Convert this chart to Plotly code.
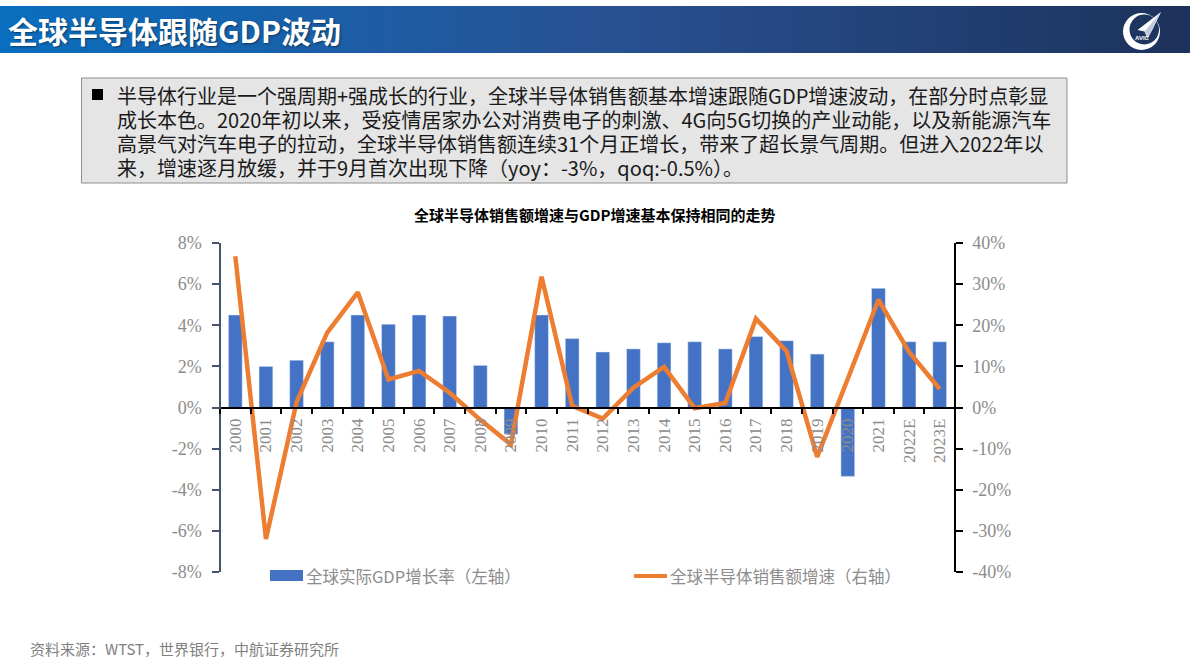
import plotly.graph_objects as go

W, H = 1190, 669

years = ['2000', '2001', '2002', '2003', '2004', '2005', '2006', '2007', '2008', '2009', '2010', '2011',
         '2012', '2013', '2014', '2015', '2016', '2017', '2018', '2019', '2020', '2021', '2022E', '2023E']
gdp_growth = [4.5, 2.0, 2.3, 3.2, 4.5, 4.05, 4.5, 4.45, 2.05, -1.3, 4.5, 3.35,
              2.7, 2.85, 3.15, 3.2, 2.85, 3.45, 3.25, 2.6, -3.35, 5.8, 3.2, 3.2]
chip_growth = [36.8, -32.0, 1.3, 18.2, 28.0, 6.8, 8.9, 3.6, -3.0, -9.0, 31.8, 0.4,
               -2.7, 4.8, 9.9, -0.2, 1.1, 21.6, 13.7, -12.0, 7.0, 26.2, 13.5, 4.5]
left_ticks = [-8, -6, -4, -2, 0, 2, 4, 6, 8]
right_ticks = [-40, -30, -20, -10, 0, 10, 20, 30, 40]

page_title = '全球半导体跟随GDP波动'
chart_title = '全球半导体销售额增速与GDP增速基本保持相同的走势'
gdp_name = '全球实际GDP增长率（左轴）'
chip_name = '全球半导体销售额增速（右轴）'
source_text = '资料来源：WTST，世界银行，中航证券研究所'
body_lines = [
    '半导体行业是一个强周期+强成长的行业，全球半导体销售额基本增速跟随GDP增速波动，在部分时点彰显',
    '成长本色。2020年初以来，受疫情居家办公对消费电子的刺激、4G向5G切换的产业动能，以及新能源汽车',
    '高景气对汽车电子的拉动，全球半导体销售额连续31个月正增长，带来了超长景气周期。但进入2022年以',
    '来，增速逐月放缓，并于9月首次出现下降（yoy：-3%，qoq:-0.5%）。',
]
body_y = [95, 119, 143, 167]

CJK = 'Noto Sans CJK SC'
SERIF = 'Liberation Serif'
BLUE = '#4472C4'
ORANGE = '#ED7D31'
GREY = '#8C8C8C'


def px(x):
    return x / W


def py(y):
    return 1 - y / H


def rect(x0, y0, x1, y1, **kw):
    return dict(type='rect', xref='paper', yref='paper', x0=px(x0), x1=px(x1), y0=py(y0), y1=py(y1),
                line=dict(width=0), **kw)


def note(x, y, text, size, color, font=CJK, xanchor='left', shadow='none'):
    return dict(xref='paper', yref='paper', x=px(x), y=py(y), text=text, showarrow=False,
                xanchor=xanchor, yanchor='middle', font=dict(family=font, size=size, color=color, shadow=shadow))


# header band, left to right gradient made of thin slices
stops = [(0.0, (10, 110, 190)), (0.5, (40, 82, 148)), (1.0, (29, 50, 92))]
shapes = []
for i in range(170):
    t = i / 169
    (t0, c0), (t1, c1) = (stops[0], stops[1]) if t < 0.5 else (stops[1], stops[2])
    f = (t - t0) / (t1 - t0)
    c = [round(a + (b - a) * f) for a, b in zip(c0, c1)]
    shapes.append(rect(i * 7, 6, (i + 1) * 7 + 1, 53, fillcolor='rgb(%d,%d,%d)' % tuple(c), layer='below'))

# text box
shapes.append(dict(type='rect', xref='paper', yref='paper', x0=px(81.5), x1=px(1067), y0=py(78), y1=py(183),
                   fillcolor='#E5E5E5', line=dict(color='#8E8E8E', width=1), layer='below'))
shapes.append(rect(92, 89, 103, 100, fillcolor='black'))

# logo: crescent and paper plane
lx, ly = 1141.5, 31.5


def logo_path(points):
    return 'M' + 'L'.join('%.4f,%.4f' % (px(lx + a), py(ly + b)) for a, b in points) + 'Z'


shapes.append(dict(type='circle', xref='paper', yref='paper', x0=px(lx - 18.5), x1=px(lx + 18.5),
                   y0=py(ly + 18.5), y1=py(ly - 18.5), fillcolor='white', line=dict(width=0)))
shapes.append(dict(type='circle', xref='paper', yref='paper', x0=px(lx - 12), x1=px(lx + 17.5),
                   y0=py(ly + 13), y1=py(ly - 17), fillcolor='#1E355F', line=dict(width=0)))
shapes.append(dict(type='path', xref='paper', yref='paper', line=dict(width=0), fillcolor='white',
                   path=logo_path([(19.5, -19.5), (-4, -1.5), (3, 0), (6, 7), (11, -2)])))
shapes.append(dict(type='path', xref='paper', yref='paper', line=dict(width=0), fillcolor='#BFCADB',
                   path=logo_path([(19.5, -19.5), (3, 0), (6, 7)])))

# legend swatches
shapes.append(rect(270, 570, 303, 581, fillcolor=BLUE))
shapes.append(dict(type='line', xref='paper', yref='paper', x0=px(634), x1=px(667), y0=py(576), y1=py(576),
                   line=dict(color=ORANGE, width=4)))

annotations = [
    note(6, 30, '<b>%s</b>' % page_title, 30, 'white', shadow='1px 1px 2px rgba(0,0,0,0.45)'),
    note(594, 215, '<b>%s</b>' % chart_title, 15, 'black', xanchor='center'),
    note(304, 576, gdp_name, 16.5, GREY),
    note(668, 576, chip_name, 16.5, GREY),
    note(28, 648, source_text, 15, '#7F7F7F'),
    note(lx + 1, ly + 6, '<b>AVIC</b>', 6, 'white', font='Liberation Sans', xanchor='center'),
]
for line, y in zip(body_lines, body_y):
    annotations.append(note(115, y, line, 20, '#1A1A1A'))

fig = go.Figure()
fig.add_trace(go.Bar(x=years, y=gdp_growth, name=gdp_name, marker_color=BLUE, yaxis='y'))
fig.add_trace(go.Scatter(x=years, y=chip_growth, name=chip_name, mode='lines', yaxis='y2',
                         line=dict(color=ORANGE, width=4.5, shape='linear')))

tick_font = dict(family=SERIF, size=18, color=GREY)
fig.update_layout(
    width=W, height=H,
    margin=dict(l=0, r=0, t=0, b=0),
    autosize=False,
    paper_bgcolor='white',
    plot_bgcolor='rgba(0,0,0,0)',
    showlegend=False,
    bargap=0.55,
    shapes=shapes,
    annotations=annotations,
    xaxis=dict(domain=[px(220), px(955)], anchor='free', position=py(408), type='category',
               categoryorder='array', categoryarray=years, tickson='boundaries', ticks='outside',
               ticklen=5, tickcolor='black', tickwidth=1.5, showline=True, linecolor='black', linewidth=1.5,
               showgrid=False, zeroline=False, tickangle=-90, tickfont=dict(family=SERIF, size=17, color=GREY),
               ticklabelstandoff=3, automargin=False),
    yaxis=dict(domain=[py(572), py(243)], range=[-8, 8], tickvals=left_ticks,
               ticktext=['%d%%' % v for v in left_ticks], ticks='outside', ticklen=7, tickcolor='#44546A',
               tickwidth=1.5, showline=True, linecolor='#44546A', linewidth=1.5, showgrid=False, zeroline=False,
               tickfont=tick_font, ticklabelstandoff=7, anchor='free', position=px(220), automargin=False),
    yaxis2=dict(domain=[py(572), py(243)], range=[-40, 40], tickvals=right_ticks,
                ticktext=['%d%%' % v for v in right_ticks], ticks='outside', ticklen=7, tickcolor='black',
                tickwidth=1.5, showline=True, linecolor='black', linewidth=1.5, showgrid=False, zeroline=False,
                tickfont=tick_font, ticklabelstandoff=6, overlaying='y', side='right', anchor='free',
                position=px(955), automargin=False),
)

# the page's default body margin would shift the figure by 8px
fig.write_html("out.html", config=dict(displayModeBar=False),
               post_script="document.body.style.margin='0';document.body.style.overflow='hidden';")
